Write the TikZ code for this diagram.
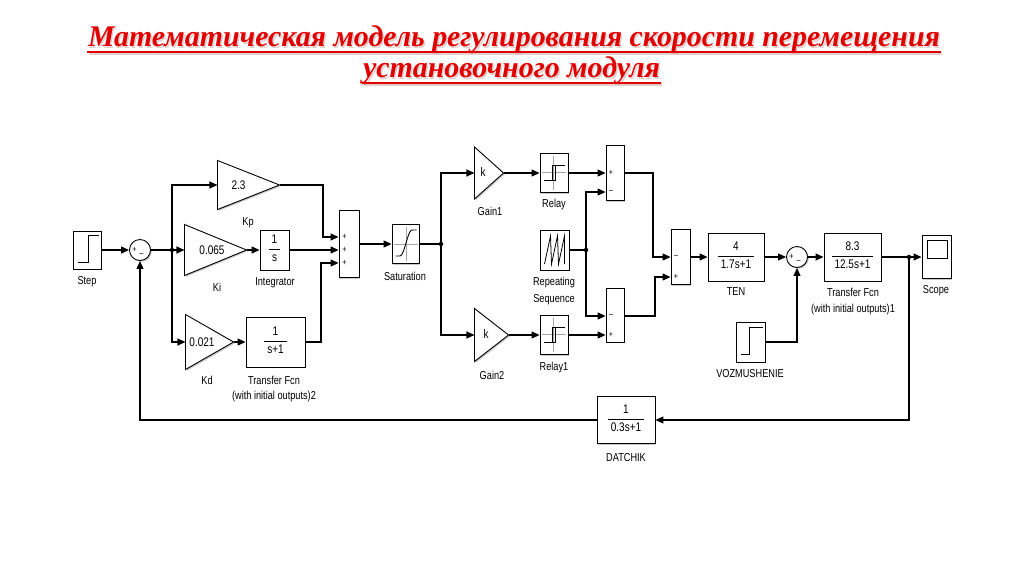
\documentclass[tikz,border=0pt]{standalone}
\usepackage{fontspec}
\setmainfont{Liberation Sans}
\newfontfamily\labfont[FakeStretch=0.8]{Liberation Sans}
\newfontfamily\ttlfont{Liberation Serif}
\usetikzlibrary{arrows.meta,shadows,calc}
\definecolor{ttlred}{RGB}{225,0,0}
\newlength\twa
\newlength\twb
\newcommand{\ttla}{Математическая модель регулирования скорости перемещения}
\newcommand{\ttlb}{установочного модуля}
\newcommand{\frc}[2]{\setlength{\arrayrulewidth}{0.8pt}\begin{tabular}{@{\hspace{3pt}}c@{\hspace{3pt}}}#1\\[1pt]\hline\rule{0pt}{12pt}#2\end{tabular}}
\begin{document}
\settowidth\twa{\ttlfont\fontsize{30}{34}\selectfont\bfseries\itshape\ttla}
\settowidth\twb{\ttlfont\fontsize{30}{34}\selectfont\bfseries\itshape\ttlb}
\begin{tikzpicture}[x=1pt,y=-1pt,line width=1.1pt,
  blk/.style={draw,fill=white,line width=0.9pt,inner sep=0pt,
    drop shadow={shadow xshift=1.3pt,shadow yshift=-1.3pt,fill=black!35,opacity=0.6}},
  trishadow/.style={fill=white,line width=0.9pt,
    drop shadow={shadow xshift=1.3pt,shadow yshift=-1.3pt,fill=black!35,opacity=0.6}},
  gainbox/.style={draw=none,inner sep=0pt},
  lab/.style={font=\labfont\fontsize{11.5}{13}\selectfont,inner sep=0pt},
  btx/.style={font=\labfont\fontsize{12.5}{14}\selectfont},
  sg/.style={font=\labfont\fontsize{9}{10}\selectfont,inner sep=0pt},
  arr/.style={-{Triangle[length=8pt,width=7pt]}},
  bdot/.style={circle,fill=black,inner sep=0pt,minimum size=4.5pt},
  icon/.style={line width=0.9pt},
  gicon/.style={line width=0.6pt,black!35},
  ttl/.style={font=\ttlfont\fontsize{30}{34}\selectfont\bfseries\itshape,inner sep=0pt,anchor=base}
]
\useasboundingbox[fill=white] (0,0) rectangle (1024,574);

% ---------- title ----------
\pgfmathsetmacro\sca{852/\twa}
\pgfmathsetmacro\scb{297/\twb}
\node[ttl,text=red!45!black!30,opacity=0.6] (t1s) at (515.5,48) {\scalebox{\sca}[1]{\ttla}};
\node[ttl,text=red!45!black!30,opacity=0.6] (t2s) at (513,79) {\scalebox{\scb}[1]{\ttlb}};
\node[ttl,text=ttlred] (t1) at (514,46.5) {\scalebox{\sca}[1]{\ttla}};
\node[ttl,text=ttlred] (t2) at (511.5,77.5) {\scalebox{\scb}[1]{\ttlb}};
\draw[red!45!black!30,opacity=0.6,line width=2.6pt] ($(t1.base west)+(1.5,7)$) -- ($(t1.base east)+(1.5,7)$);
\draw[red!45!black!30,opacity=0.6,line width=2.6pt] ($(t2.base west)+(1.5,7)$) -- ($(t2.base east)+(1.5,7)$);
\draw[ttlred,line width=2.6pt] ($(t1.base west)+(0,5.5)$) -- ($(t1.base east)+(0,5.5)$);
\draw[ttlred,line width=2.6pt] ($(t2.base west)+(0,5.5)$) -- ($(t2.base east)+(0,5.5)$);

% ---------- blocks ----------
\node[blk,minimum width=28pt,minimum height=38pt] (step) at (87,250) {};
\node[blk,circle,minimum size=21pt] (s1) at (140,250) {};
\node[bdot] (b1) at (172,250) {};

\node[gainbox,minimum width=61pt,minimum height=48pt] (kp) at (248.5,185) {};
\draw[trishadow] (kp.north west) -- (kp.east) -- (kp.south west) -- cycle;
\node[gainbox,minimum width=61pt,minimum height=50pt] (ki) at (215.5,250) {};
\draw[trishadow] (ki.north west) -- (ki.east) -- (ki.south west) -- cycle;
\node[gainbox,minimum width=47pt,minimum height=54pt] (kd) at (209.5,342) {};
\draw[trishadow] (kd.north west) -- (kd.east) -- (kd.south west) -- cycle;

\node[blk,btx,minimum width=29pt,minimum height=40pt] (integ) at (274.5,250) {\frc{1}{s}};
\node[blk,btx,minimum width=59pt,minimum height=50pt] (tf2) at (275.5,342) {\frc{1}{s+1}};
\node[blk,minimum width=20pt,minimum height=67pt] (sum2) at (349,244) {};
\node[blk,minimum width=27pt,minimum height=39pt] (sat) at (405.5,244) {};
\node[bdot] (b2) at (441,244) {};

\node[gainbox,minimum width=28pt,minimum height=51pt] (g1) at (489,173) {};
\draw[trishadow] (g1.north west) -- (g1.east) -- (g1.south west) -- cycle;
\node[gainbox,minimum width=33pt,minimum height=52pt] (g2) at (491.5,335) {};
\draw[trishadow] (g2.north west) -- (g2.east) -- (g2.south west) -- cycle;

\node[blk,minimum width=28pt,minimum height=39pt] (relay) at (554,173) {};
\node[blk,minimum width=28pt,minimum height=39pt] (relay1) at (554,335) {};
\node[blk,minimum width=29pt,minimum height=40pt] (rep) at (554.5,250) {};
\node[bdot] (b3) at (586,250) {};
\node[blk,minimum width=18pt,minimum height=55pt] (sum3) at (615,173) {};
\node[blk,minimum width=18pt,minimum height=54pt] (suml) at (615,315) {};
\node[blk,minimum width=19pt,minimum height=55pt] (sum4) at (680.5,257) {};
\node[blk,btx,minimum width=56pt,minimum height=48pt] (ten) at (736,257) {\frc{4}{1.7s+1}};
\node[blk,circle,minimum size=21pt] (s5) at (797,257) {};
\node[blk,btx,minimum width=57pt,minimum height=48pt] (tf1) at (852.5,257) {\frc{8.3}{12.5s+1}};
\node[bdot] (b4) at (909,257) {};
\node[blk,minimum width=29pt,minimum height=43pt] (scope) at (936.5,257) {};
\node[blk,minimum width=29pt,minimum height=40pt] (voz) at (750.5,342) {};
\node[blk,btx,minimum width=58pt,minimum height=47pt] (dat) at (626,420) {\frc{1}{0.3s+1}};

% ---------- texts inside gains and sums ----------
\node[btx,inner sep=0pt] (kpt) at (238.5,185) {2.3};
\node[btx,inner sep=0pt] (kit) at (212,250) {0.065};
\node[btx,inner sep=0pt] (kdt) at (202,342) {0.021};
\node[btx,inner sep=0pt] (g1t) at (483,172) {k};
\node[btx,inner sep=0pt] (g2t) at (486,334) {k};

\node[sg] (s1p) at (134.5,249.5) {+};
\node[sg] (s1m) at (141.5,255) {\textendash};
\node[sg] (s5p) at (791.5,256.5) {+};
\node[sg] (s5m) at (798.5,262) {\textendash};
\node[sg] (s2p1) at (344.5,237) {+};
\node[sg] (s2p2) at (344.5,250) {+};
\node[sg] (s2p3) at (344.5,263) {+};
\node[sg] (s3p) at (611,173) {+};
\node[sg] (s3m) at (611,192) {\textendash};
\node[sg] (slm) at (611,316) {\textendash};
\node[sg] (slp) at (611,335) {+};
\node[sg] (s4m) at (676,257) {\textendash};
\node[sg] (s4p) at (676,277) {+};

% ---------- icons ----------
\begin{scope}[shift={(step.center)}]
  \draw[icon] (-9,12) -- (1,12) -- (1,-15) -- (12,-15);
\end{scope}
\begin{scope}[shift={(voz.center)}]
  \draw[icon] (-10,12) -- (-1,12) -- (-1,-15) -- (12,-15);
\end{scope}
\begin{scope}[shift={(sat.center)}]
  \draw[gicon] (0.5,-17) -- (0.5,17);
  \draw[gicon] (-12,0) -- (12,0);
  \draw[icon] (-10,12) -- (-5.5,12) .. controls (-1,12) and (2,-14) .. (6.5,-14) -- (11,-14);
\end{scope}
\begin{scope}[shift={(relay.center)}]
  \draw[gicon] (-1,-17) -- (-1,17);
  \draw[gicon] (-12,-1) -- (12,-1);
  \draw[icon] (-10,7) -- (1,7) -- (1,-8) -- (11,-8);
  \draw[icon] (-2,7) -- (-2,-8) -- (1,-8);
\end{scope}
\begin{scope}[shift={(relay1.center)}]
  \draw[gicon] (-1,-17) -- (-1,17);
  \draw[gicon] (-12,-1) -- (12,-1);
  \draw[icon] (-10,7) -- (1,7) -- (1,-8) -- (11,-8);
  \draw[icon] (-2,7) -- (-2,-8) -- (1,-8);
\end{scope}
\begin{scope}[shift={(rep.center)}]
  \draw[line width=0.8pt] (-10,14) -- (-4,-14) -- (-3,14) -- (3,-14) -- (4,14) -- (10,-14) -- (10,14);
\end{scope}
\begin{scope}[shift={(scope.center)}]
  \draw[line width=0.9pt] (-9.5,-17) rectangle (10.5,1);
\end{scope}

% ---------- connectors ----------
\draw[arr] (step.east) -- (s1.west);
\draw[arr] (s1.east) -- (ki.west);
\draw[arr] (b1.center) |- (kp.west);
\draw[arr] (b1.center) |- (kd.west);
\draw[arr] (ki.east) -- (integ.west);
\draw[arr] (kd.east) -- (tf2.west);
\draw[arr] (kp.east) -- (323,185) |- (sum2.west |- s2p1);
\draw[arr] (integ.east) -- (sum2.west |- integ.east);
\draw[arr] (tf2.east) -- (321,342) |- (sum2.west |- s2p3);
\draw[arr] (sum2.east) -- (sat.west);
\draw (sat.east) -- (b2.center);
\draw[arr] (b2.center) |- (g1.west);
\draw[arr] (b2.center) |- (g2.west);
\draw[arr] (g1.east) -- (relay.west);
\draw[arr] (g2.east) -- (relay1.west);
\draw[arr] (relay.east) -- (sum3.west |- relay.east);
\draw[arr] (relay1.east) -- (suml.west |- relay1.east);
\draw (rep.east) -- (b3.center);
\draw[arr] (b3.center) |- (sum3.west |- s3m);
\draw[arr] (b3.center) |- (suml.west |- slm);
\draw[arr] (sum3.east |- relay.east) -- (653,173) |- (sum4.west |- s4m);
\draw[arr] (suml.east |- slm) -- (655,316) |- (sum4.west |- s4p);
\draw[arr] (sum4.east |- ten.west) -- (ten.west);
\draw[arr] (ten.east) -- (s5.west);
\draw[arr] (s5.east) -- (tf1.west);
\draw (tf1.east) -- (b4.center);
\draw[arr] (b4.center) -- (scope.west);
\draw[arr] (voz.east) -| (s5.south);
\draw[arr] (b4.center) |- (dat.east);
\draw[arr] (dat.west) -| (s1.south);

% ---------- labels ----------
\node[lab] (lstep) at (87,282) {Step};
\node[lab] (lkp) at (248,223) {Kp};
\node[lab] (lki) at (217,287) {Ki};
\node[lab] (lint) at (275,283) {Integrator};
\node[lab] (lkd) at (207,380) {Kd};
\node[lab] (ltf2a) at (274,380) {Transfer Fcn};
\node[lab] (ltf2b) at (274,397) {(with initial outputs)2};
\node[lab] (lsat) at (405,276) {Saturation};
\node[lab] (lg1) at (490,211) {Gain1};
\node[lab] (lrel) at (554,205) {Relay};
\node[lab] (lrepa) at (554,283) {Repeating};
\node[lab] (lrepb) at (554,300) {Sequence};
\node[lab] (lg2) at (492,375) {Gain2};
\node[lab] (lrel1) at (554,368) {Relay1};
\node[lab] (lten) at (736,292) {TEN};
\node[lab] (ltf1a) at (853,292) {Transfer Fcn};
\node[lab] (ltf1b) at (853,310) {(with initial outputs)1};
\node[lab] (lscope) at (936,291) {Scope};
\node[lab] (lvoz) at (750,374) {VOZMUSHENIE};
\node[lab] (ldat) at (626,458) {DATCHIK};
\end{tikzpicture}
\end{document}
